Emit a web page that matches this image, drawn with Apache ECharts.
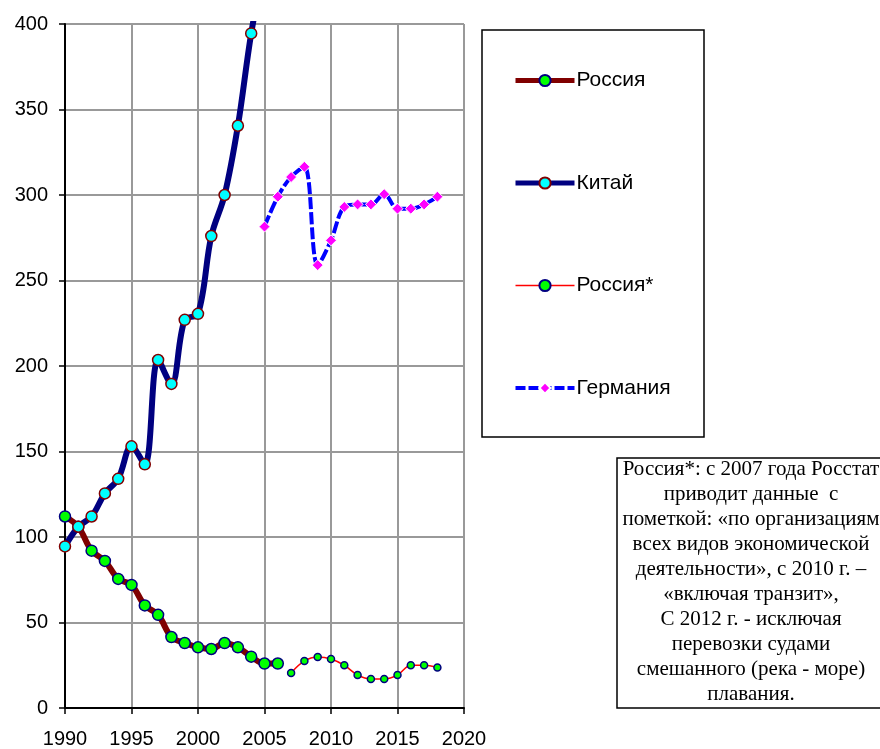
<!DOCTYPE html>
<html>
<head>
<meta charset="utf-8">
<script src="https://cdn.jsdelivr.net/npm/echarts@6/dist/echarts.min.js"></script>
<style>
html,body{margin:0;padding:0;background:#fff;}
#chart{width:880px;height:749px;}
</style>
</head>
<body>
<div id="chart"></div>
<script>
// ---- data ----
const seriesNames = ['Россия', 'Китай', 'Россия*', 'Германия'];

const russiaYears = [1990,1991,1992,1993,1994,1995,1996,1997,1998,1999,2000,2001,2002,2003,2004,2005,2006];
const russiaValues = [112,106,92,86,75.5,72,60,54.5,41.5,38,35.5,34.5,38,35.5,30,26,26];

const chinaYears = [1990,1991,1992,1993,1994,1995,1996,1997,1998,1999,2000,2001,2002,2003,2004,2005];
const chinaValues = [94.5,106,112,125.5,134,153,142.5,203.5,189.5,227,230.5,276,300,340.5,394.5,435];

const russiaStarYears = [2007,2008,2009,2010,2011,2012,2013,2014,2015,2016,2017,2018];
const russiaStarValues = [20.5,27.5,29.8,28.7,25,19.3,17,17,19.3,25,25,23.7];

const germanyYears = [2005,2006,2007,2008,2009,2010,2011,2012,2013,2014,2015,2016,2017,2018];
const germanyValues = [281.5,299,310.5,316.5,259,273.5,293,294.5,294.5,300.5,292,292,294.5,299];

const xTicks = [1990,1995,2000,2005,2010,2015,2020];
const yTicks = [0,50,100,150,200,250,300,350,400];

const noteText = 'Россия*: с 2007 года Росстат\nприводит данные  с\nпометкой: «по организациям\nвсех видов экономической\nдеятельности», с 2010 г. –\n«включая транзит»,\nС 2012 г. - исключая\nперевозки судами\nсмешанного (река - море)\nплавания.';

// ---- build ----
const pairs = (xs, ys) => xs.map((x, i) => [x, ys[i]]);
const sansFont = '"Liberation Sans", Arial, sans-serif';

const chart = echarts.init(document.getElementById('chart'), null, {renderer: 'canvas'});

const option = {
  animation: false,
  backgroundColor: '#ffffff',
  grid: {left: 65, right: 416, top: 24, bottom: 41, containLabel: false},
  xAxis: {
    type: 'value',
    min: xTicks[0], max: xTicks[xTicks.length - 1], interval: 5,
    axisLine: {show: true, onZero: false, lineStyle: {color: '#000', width: 2}},
    axisTick: {show: true, inside: false, length: 6, lineStyle: {color: '#000', width: 1.5}},
    axisLabel: {color: '#000', fontSize: 20, fontFamily: sansFont, margin: 21,
      formatter: v => String(v)},
    splitLine: {show: true, lineStyle: {color: '#999', width: 2}}
  },
  yAxis: {
    type: 'value',
    min: yTicks[0], max: yTicks[yTicks.length - 1], interval: 50,
    axisLine: {show: true, onZero: false, lineStyle: {color: '#000', width: 2}},
    axisTick: {show: true, inside: false, length: 6, lineStyle: {color: '#000', width: 1.5}},
    axisLabel: {color: '#000', fontSize: 20, fontFamily: sansFont, margin: 17,
      formatter: v => String(v)},
    splitLine: {show: true, lineStyle: {color: '#999', width: 2}}
  },
  legend: {
    orient: 'vertical',
    left: 513, top: 70,
    padding: 0,
    itemWidth: 59, itemHeight: 14,
    itemGap: 81.5,
    textStyle: {color: '#000', fontSize: 21, fontFamily: sansFont, lineHeight: 20, padding: [0, 0, 0, -3]},
    selectedMode: false,
    data: [
      {name: seriesNames[0], lineStyle: {width: 5}},
      {name: seriesNames[1], lineStyle: {width: 5}},
      {name: seriesNames[2], lineStyle: {width: 1.5}},
      {name: seriesNames[3], lineStyle: {width: 4, type: [10, 3]}}
    ]
  },
  graphic: [
    {
      type: 'rect', z: 0, silent: true,
      shape: {x: 482, y: 30, width: 222, height: 407},
      style: {fill: 'none', stroke: '#000', lineWidth: 1.5}
    },
    {
      type: 'rect', z: 0, silent: true,
      shape: {x: 617, y: 458, width: 280, height: 250},
      style: {fill: '#fff', stroke: '#000', lineWidth: 1.5}
    },
    {
      type: 'text', z: 1, silent: true,
      x: 751, y: 457,
      style: {
        text: noteText,
        fill: '#000',
        font: '21px "Liberation Serif", "Times New Roman", serif',
        fontSize: 21,
        fontFamily: '"Liberation Serif", "Times New Roman", serif',
        lineHeight: 25,
        align: 'center', verticalAlign: 'top',
        textAlign: 'center', textVerticalAlign: 'top'
      }
    }
  ],
  series: [
    {
      name: seriesNames[0], type: 'line',
      data: pairs(russiaYears, russiaValues),
      smooth: 0.35,
      lineStyle: {color: '#800000', width: 6},
      itemStyle: {color: '#00ff00', borderColor: '#000080', borderWidth: 1.5},
      symbol: 'circle', symbolSize: 11, showAllSymbol: true
    },
    {
      name: seriesNames[1], type: 'line',
      data: pairs(chinaYears, chinaValues),
      smooth: 0.35,
      lineStyle: {color: '#000080', width: 6},
      itemStyle: {color: '#00ffff', borderColor: '#800000', borderWidth: 1.5},
      symbol: 'circle', symbolSize: 11, showAllSymbol: true
    },
    {
      name: seriesNames[2], type: 'line',
      data: pairs(russiaStarYears, russiaStarValues),
      smooth: 0.35,
      lineStyle: {color: '#ff0000', width: 1.5},
      itemStyle: {color: '#00ff00', borderColor: '#000080', borderWidth: 1.5},
      symbol: 'circle', symbolSize: 7, showAllSymbol: true
    },
    {
      name: seriesNames[3], type: 'line',
      data: pairs(germanyYears, germanyValues),
      smooth: 0.35,
      lineStyle: {color: '#0000ff', width: 4, type: [12, 3]},
      itemStyle: {color: '#ff00ff', borderColor: '#ffffff', borderWidth: 1},
      symbol: 'diamond', symbolSize: 11, showAllSymbol: true
    }
  ]
};
chart.setOption(option);
</script>
</body>
</html>
